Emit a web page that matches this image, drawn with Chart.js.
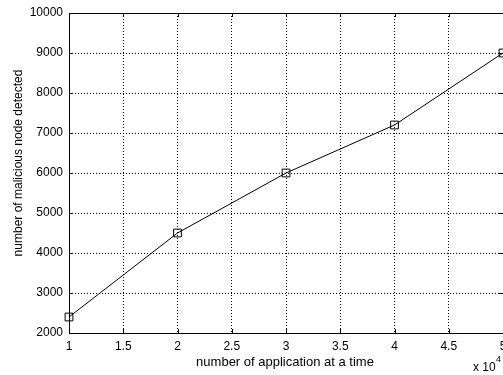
<!DOCTYPE html>
<html>
<head>
<meta charset="utf-8">
<script src="https://cdn.jsdelivr.net/npm/chart.js@4/dist/chart.umd.min.js"></script>
<style>
  html, body { margin: 0; padding: 0; background: #fff; }
  canvas { display: block; }
</style>
</head>
<body>
<canvas id="chart" width="503" height="375"></canvas>
<script>
// data
apps = [10000, 20000, 30000, 40000, 50000]
detected = [2400, 4500, 6000, 7200, 9000]
xTitle = 'number of application at a time'
yTitle = 'number of malicious node detected'
xMultiplier = ['x 10', '4']

FONT = '"Liberation Sans", Arial, sans-serif'

// box, inward ticks and the axis texts (matlab look)
matlabFrame = {
  id: 'matlabFrame',
  afterDraw(chart) {
    const ctx = chart.ctx
    const a = chart.chartArea
    const xs = chart.scales.x, ys = chart.scales.y
    ctx.save()
    ctx.strokeStyle = '#000'
    ctx.lineWidth = 1
    ctx.strokeRect(a.left + 0.5, a.top + 0.5, a.right - a.left, a.bottom - a.top)
    ctx.beginPath()
    xs.ticks.forEach(t => {
      const px = Math.round(xs.getPixelForValue(t.value)) + 0.5
      ctx.moveTo(px, a.bottom); ctx.lineTo(px, a.bottom - 4)
      ctx.moveTo(px, a.top); ctx.lineTo(px, a.top + 4)
    })
    ys.ticks.forEach(t => {
      const py = Math.round(ys.getPixelForValue(t.value)) + 0.5
      ctx.moveTo(a.left, py); ctx.lineTo(a.left + 4, py)
      ctx.moveTo(a.right, py); ctx.lineTo(a.right - 4, py)
    })
    ctx.stroke()

    ctx.fillStyle = '#000'
    ctx.textAlign = 'center'
    ctx.textBaseline = 'middle'
    ctx.font = '13px ' + FONT
    ctx.fillText(xTitle, 285, 362)
    ctx.save()
    ctx.font = '12px ' + FONT
    ctx.translate(18.5, 163)
    ctx.rotate(-Math.PI / 2)
    ctx.fillText(yTitle, 0, 0)
    ctx.restore()
    ctx.textAlign = 'left'
    ctx.font = '12px ' + FONT
    ctx.fillText(xMultiplier[0], 473, 368)
    ctx.font = '9px ' + FONT
    ctx.fillText(xMultiplier[1], 496, 360)
    ctx.restore()
  }
}

config = {
  type: 'line',
  data: {
    datasets: [{
      data: apps.map((x, i) => ({ x: x, y: detected[i] })),
      borderColor: '#000',
      borderWidth: 1,
      pointStyle: 'rect',
      pointRadius: 5.5,
      pointBorderColor: '#000',
      pointBackgroundColor: 'rgba(0,0,0,0)',
      pointBorderWidth: 1,
      tension: 0,
      clip: false
    }]
  },
  options: {
    responsive: false,
    animation: false,
    layout: { autoPadding: false, padding: { top: 13, right: 0, left: 0, bottom: 0 } },
    plugins: { legend: { display: false }, tooltip: { enabled: false }, title: { display: false } },
    scales: {
      x: {
        type: 'linear',
        min: 10000, max: 50000,
        grid: { color: '#000', lineWidth: 1, drawTicks: false },
        border: { display: false, dash: [1, 2] },
        ticks: {
          stepSize: 5000,
          padding: 6,
          maxRotation: 0,
          autoSkip: false,
          color: '#000',
          font: { family: FONT, size: 12 },
          callback: v => String(v / 10000)
        },
        afterFit(s) { s.height = 42; s.paddingLeft = 0; s.paddingRight = 0 }
      },
      y: {
        min: 2000, max: 10000,
        grid: { color: '#000', lineWidth: 1, drawTicks: false },
        border: { display: false, dash: [1, 2] },
        ticks: {
          stepSize: 1000,
          padding: 6,
          autoSkip: false,
          color: '#000',
          font: { family: FONT, size: 12 },
          callback: v => String(v)
        },
        afterFit(s) { s.width = 69; s.paddingTop = 0; s.paddingBottom = 0 }
      }
    }
  },
  plugins: [matlabFrame]
}

ctx = document.getElementById('chart')
new Chart(ctx, config)
</script>
</body>
</html>
